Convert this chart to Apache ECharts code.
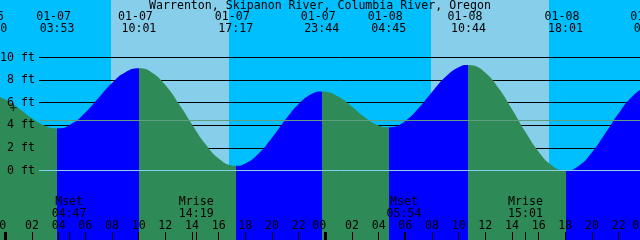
<!DOCTYPE html>
<html><head><meta charset="utf-8">
<script src="https://cdn.jsdelivr.net/npm/echarts@6/dist/echarts.min.js"></script>
<style>html,body{margin:0;padding:0;background:#00bfff}#c{width:640px;height:240px}</style>
</head><body><div id="c"></div>
<script>
// hours counted from 01-07 00:00
const curveHours = [-2,-1.167,-1,0,1,2,3,3.883,4,5,6,7,8,9,10.017,11,12,13,14,15,16,17,17.283,18,19,20,21,22,23,23.733,24,25,26,27,28,28.75,29,30,31,32,33,34,34.733,35,36,37,38,39,40,41,42.017,43,44,45,46,47,48,48.433,49];
const curveFeet  = [6.4,6.65,6.64,6.28,5.51,4.62,3.95,3.73,3.73,4.15,5.14,6.45,7.74,8.69,9.04,8.66,7.56,5.92,4.08,2.35,1.07,0.45,0.42,0.62,1.51,2.90,4.49,5.89,6.79,7.0,6.98,6.53,5.65,4.68,3.99,3.82,3.84,4.39,5.53,6.95,8.27,9.14,9.34,9.31,8.66,7.28,5.42,3.42,1.65,0.45,0.0,0.41,1.61,3.29,5.07,6.53,7.32,7.4,7.35];

const eventHours  = [-1.167, 3.883, 10.017, 17.283, 23.733, 28.75, 34.733, 42.017, 48.433];
const eventKinds  = ['H','L','H','L','H','L','H','L','H'];
const eventDates  = ['01-06','01-07','01-07','01-07','01-07','01-08','01-08','01-08','01-09'];
const eventClocks = ['22:50','03:53','10:01','17:17','23:44','04:45','10:44','18:01','00:26'];

const moonHours  = [4.783, 14.317, 29.9, 39.017];
const moonNames  = ['Mset','Mrise','Mset','Mrise'];
const moonClocks = ['04:47','14:19','05:54','15:01'];

const sunriseHours = [7.925, 31.925];
const sunsetHours  = [16.775, 40.775];

const levelTicks = [0,2,4,6,8,10];
const gridLevels = [2,4,6,8,10];
const overlayLevels = [0, 4.42];
const hourTicks = [0,2,4,6,8,10,12,14,16,18,20,22,24,26,28,30,32,34,36,38,40,42,44,46,48];
const dayTicks = [0,24,48];
const nowPoint = [[0.6, 5.6]];

const X_MIN = -2, X_MAX = 49, Y_MIN = -6.15, Y_MAX = 15.09;
const FONT = 'DejaVu Sans Mono';
const FS = 11.6;
const NIGHT = '#00bfff', DAY = '#87ceeb', GREEN = '#2e8b57', BLUE = '#0000ff';

const bands = [];
let prev = X_MIN;
for (let i = 0; i < sunriseHours.length; i++) {
  bands.push([prev, sunriseHours[i], 0]);
  bands.push([sunriseHours[i], sunsetHours[i], 1]);
  prev = sunsetHours[i];
}
bands.push([prev, X_MAX, 0]);

const pieces = [];
pieces.push({lt: eventHours[0], color: eventKinds[0] === 'H' ? BLUE : GREEN});
for (let i = 0; i < eventHours.length - 1; i++) {
  pieces.push({gte: eventHours[i], lt: eventHours[i+1], color: eventKinds[i+1] === 'H' ? BLUE : GREEN});
}
pieces.push({gte: eventHours[eventHours.length-1], color: eventKinds[eventHours.length-1] === 'H' ? GREEN : BLUE});

function nearest(arr, v) {
  let b = 0;
  for (let i = 1; i < arr.length; i++) if (Math.abs(arr[i]-v) < Math.abs(arr[b]-v)) b = i;
  return b;
}
const pad = n => (n < 10 ? '0' : '') + n;
const curve = curveHours.map((h, i) => [h, curveFeet[i]]);
const moonTickVals = hourTicks.filter(h => h % 24 !== 0).concat(moonHours);

const chart = echarts.init(document.getElementById('c'), null, {renderer: 'canvas'});
const txt = {fontFamily: FONT, fontSize: FS, color: '#000', lineHeight: 12};
const noLine = {show: false, onZero: false};
chart.setOption({
  animation: false,
  backgroundColor: NIGHT,
  title: {
    text: 'Warrenton, Skipanon River, Columbia River, Oregon',
    left: 'center', top: 0, padding: 0,
    textStyle: {fontFamily: FONT, fontSize: FS, fontWeight: 'normal', color: '#000', lineHeight: 12}
  },
  grid: [
    {left: -21.333, right: -18.667, top: 0, bottom: 0, outerBoundsMode: 'none', containLabel: false},
    {left: 39, right: 0, top: 0, bottom: 0, outerBoundsMode: 'none', containLabel: false}
  ],
  xAxis: [
    {gridIndex: 0, type: 'value', min: X_MIN, max: X_MAX, position: 'bottom', z: 5,
     axisLine: noLine, splitLine: {show: false},
     axisTick: {show: true, inside: true, length: 8, customValues: moonTickVals, lineStyle: {color: '#000', width: 1}},
     axisLabel: {show: true, inside: true, margin: 8.5, customValues: hourTicks,
       formatter: v => { const h = Math.round(v) % 24; return h === 0 ? '{m|00}' : '{n|' + pad(h) + '}'; },
       rich: {m: Object.assign({}, txt, {padding: [0, 12, 0, 0]}), n: txt}}},
    {gridIndex: 0, type: 'value', min: X_MIN, max: X_MAX, position: 'bottom', z: 5,
     axisLine: noLine, splitLine: {show: false}, axisLabel: {show: false},
     axisTick: {show: true, inside: true, length: 8, customValues: dayTicks, lineStyle: {color: '#000', width: 3}}},
    {gridIndex: 0, type: 'value', min: X_MIN, max: X_MAX, position: 'bottom', offset: -44, z: 5,
     axisLine: noLine, splitLine: {show: false}, axisTick: {show: false},
     axisLabel: {show: true, margin: 0, customValues: moonHours,
       formatter: v => { const i = nearest(moonHours, v); return moonNames[i] + '\n' + moonClocks[i]; },
       fontFamily: FONT, fontSize: FS, color: '#000', lineHeight: 12}},
    {gridIndex: 0, type: 'value', min: X_MIN, max: X_MAX, position: 'top', offset: -35, z: 5,
     axisLine: noLine, splitLine: {show: false}, axisTick: {show: false},
     axisLabel: {show: true, margin: 0, customValues: eventHours,
       formatter: v => { const i = nearest(eventHours, v); return '{d|' + eventDates[i] + '}\n{t|' + eventClocks[i] + '}'; },
       rich: {d: Object.assign({}, txt, {padding: [0, 7, 0, 0]}), t: txt}}},
    {gridIndex: 1, type: 'value', min: 0, max: 1, show: false, axisLine: noLine}
  ],
  yAxis: [
    {gridIndex: 0, type: 'value', min: Y_MIN, max: Y_MAX, position: 'left', offset: -60.333, z: 5,
     axisLine: noLine, axisTick: {show: false}, splitLine: {show: false},
     axisLabel: {show: true, margin: 4, customValues: levelTicks, formatter: '{value} ft',
       fontFamily: FONT, fontSize: FS, color: '#000'}},
    {gridIndex: 1, type: 'value', min: Y_MIN, max: Y_MAX, z: 1,
     axisLine: noLine, axisLabel: {show: false}, axisTick: {show: false, customValues: gridLevels},
     splitLine: {show: true, lineStyle: {color: '#000', width: 1}}},
    {gridIndex: 1, type: 'value', min: Y_MIN, max: Y_MAX, z: 3,
     axisLine: noLine, axisLabel: {show: false}, axisTick: {show: false, customValues: overlayLevels},
     splitLine: {show: true, lineStyle: {color: [DAY, '#5f9f80'], width: 1}}}
  ],
  visualMap: {type: 'piecewise', show: false, dimension: 0, seriesIndex: 1, pieces: pieces},
  series: [
    {type: 'custom', xAxisIndex: 0, yAxisIndex: 0, z: 0, silent: true, data: bands,
     renderItem: (params, api) => {
       const a = api.coord([api.value(0), 0])[0];
       const b = api.coord([api.value(1), 0])[0];
       const cs = params.coordSys;
       return {type: 'rect', shape: {x: a, y: cs.y, width: b - a, height: cs.height},
               style: {fill: api.value(2) ? DAY : NIGHT}};
     }},
    {type: 'line', xAxisIndex: 0, yAxisIndex: 0, z: 2, data: curve, smooth: true,
     showSymbol: false, lineStyle: {width: 0}, areaStyle: {opacity: 1, origin: 'start'}},
    {type: 'scatter', xAxisIndex: 0, yAxisIndex: 0, z: 4, data: nowPoint, symbolSize: [7, 8],
     symbol: 'path://M3,0h1v8h-1zM0,4h7v1h-7z', itemStyle: {color: '#000'}}
  ]
});
</script></body></html>
